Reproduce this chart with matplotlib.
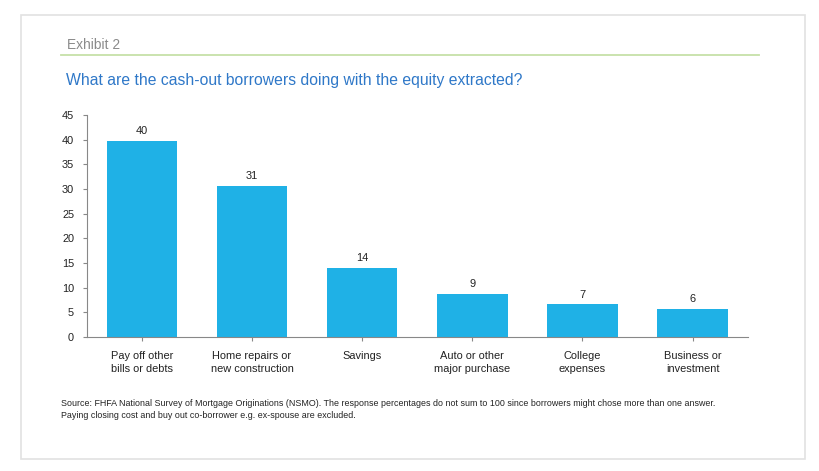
import matplotlib
matplotlib.use("Agg")
import matplotlib.pyplot as plt
from matplotlib.patches import Rectangle
from matplotlib.lines import Line2D

plt.rcParams['font.family'] = ['Liberation Sans', 'DejaVu Sans']

# data
categories = ["Pay off other\nbills or debts", "Home repairs or\nnew construction", "Savings",
              "Auto or other\nmajor purchase", "College\nexpenses", "Business or\ninvestment"]
values = [39.7, 30.7, 13.9, 8.8, 6.6, 5.7]
labels = ["40", "31", "14", "9", "7", "6"]
yticks = [0, 5, 10, 15, 20, 25, 30, 35, 40, 45]

W, H = 819, 471
fig = plt.figure(figsize=(W / 100, H / 100), dpi=100)
fig.patch.set_facecolor("white")

# outer frame and green rule
fig.patches.append(Rectangle((20.5 / W, 1 - 458.5 / H), 784 / W, 444 / H, transform=fig.transFigure,
                             fill=False, edgecolor="#e2e2e2", linewidth=1.2))
fig.lines.append(Line2D([61 / W, 759 / W], [1 - 55 / H, 1 - 55 / H], transform=fig.transFigure,
                        color="#c6e0a8", linewidth=1.3))

fig.text(67 / W, 1 - 45 / H, "Exhibit 2", color="#8a8a8a", fontsize=9.9, va="center", ha="left")
fig.text(66 / W, 1 - 80 / H, "What are the cash-out borrowers doing with the equity extracted?",
         color="#2f78c8", fontsize=11.3, va="center", ha="left")

ax = fig.add_axes([86.7 / W, 1 - 337 / H, 661 / W, 222 / H])
x = range(len(values))
bars = ax.bar(x, values, width=0.64, color="#1fb1e6")
for xi, v, lab in zip(x, values, labels):
    ax.text(xi, v + 1.0, lab, ha="center", va="bottom", fontsize=7.9, color="#222222")

ax.set_xlim(-0.5, 5.5)
ax.set_ylim(0, 45)
ax.set_yticks(yticks)
ax.set_xticks(list(x))
ax.set_xticklabels(categories, fontsize=7.9, color="#222222", linespacing=1.35)
ax.tick_params(axis="y", labelsize=7.9, colors="#222222", length=3, width=0.8, color="#888888", pad=6)
ax.tick_params(axis="x", length=3, width=0.8, color="#888888", pad=7)
for s in ["top", "right"]:
    ax.spines[s].set_visible(False)
for s in ["left", "bottom"]:
    ax.spines[s].set_color("#888888")
    ax.spines[s].set_linewidth(0.8)

fig.text(61 / W, 1 - 404 / H,
         "Source: FHFA National Survey of Mortgage Originations (NSMO). The response percentages do not sum to 100 since borrowers might chose more than one answer.",
         fontsize=6.4, color="#222222", va="center", ha="left")
fig.text(61 / W, 1 - 415 / H,
         "Paying closing cost and buy out co-borrower e.g. ex-spouse are excluded.",
         fontsize=6.4, color="#222222", va="center", ha="left")

fig.savefig("out.png", dpi=100)
